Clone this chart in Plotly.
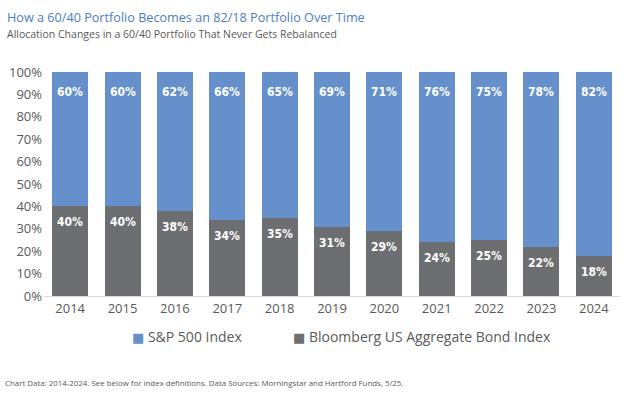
import plotly.graph_objects as go

years = ["2014", "2015", "2016", "2017", "2018", "2019", "2020", "2021", "2022", "2023", "2024"]
bond = [40, 40, 38, 34, 35, 31, 29, 24, 25, 22, 18]
sp500 = [60, 60, 62, 66, 65, 69, 71, 76, 75, 78, 82]
series_names = ["S&P 500 Index", "Bloomberg US Aggregate Bond Index"]
y_ticks = [0, 10, 20, 30, 40, 50, 60, 70, 80, 90, 100]

BLUE = "#6690CB"
GRAY = "#6D6E71"
TXT = "#595959"

fig = go.Figure()
fig.add_trace(go.Bar(x=years, y=[v / 100 for v in bond], name=series_names[1],
                     marker=dict(color=GRAY, line=dict(width=0)), showlegend=False))
fig.add_trace(go.Bar(x=years, y=[v / 100 for v in sp500], name=series_names[0],
                     marker=dict(color=BLUE, line=dict(width=0)), showlegend=False))

lab_font = dict(family="DejaVu Sans Condensed", size=12, color="white", weight="bold")
for i, (b, s) in enumerate(zip(bond, sp500)):
    fig.add_annotation(x=i, y=b / 100, text=f"{b}%", showarrow=False, yanchor="middle",
                       yshift=-16, font=lab_font)
    fig.add_annotation(x=i, y=(b + s) / 100, text=f"{s}%", showarrow=False, yanchor="middle",
                       yshift=-20, font=lab_font)

# legend entries (text with colored square glyph)
leg_font = dict(family="Open Sans", size=14, color=TXT)
for name, col, xp in [(series_names[0], BLUE, 0.1493), (series_names[1], GRAY, 0.4288)]:
    fig.add_annotation(xref="paper", yref="paper", x=xp, y=0, yshift=-40, xanchor="left",
                       yanchor="middle", showarrow=False,
                       text=f"<span style='color:{col};font-family:DejaVu Sans;font-size:13px'>■</span> {name}",
                       font=leg_font)

fig.add_annotation(xref="paper", yref="paper", x=-0.068, y=1.0, yshift=55, xanchor="left",
                   yanchor="middle", showarrow=False,
                   text="How a 60/40 Portfolio Becomes an 82/18 Portfolio Over Time",
                   font=dict(family="Open Sans", size=12.65, color="#4A7EC2"))
fig.add_annotation(xref="paper", yref="paper", x=-0.068, y=1.0, yshift=38, xanchor="left",
                   yanchor="middle", showarrow=False,
                   text="Allocation Changes in a 60/40 Portfolio That Never Gets Rebalanced",
                   font=dict(family="Open Sans", size=10.5, color=TXT))
fig.add_annotation(xref="paper", yref="paper", x=-0.071, y=0, yshift=-87, xanchor="left",
                   yanchor="middle", showarrow=False,
                   text="Chart Data: 2014-2024. See below for index definitions. Data Sources: Morningstar and Hartford Funds, 5/25.",
                   font=dict(family="Open Sans", size=7.9, color=TXT))

fig.update_layout(
    barmode="stack",
    bargap=0.313,
    width=624, height=396,
    margin=dict(l=44, r=4, t=72, b=100),
    paper_bgcolor="white", plot_bgcolor="white",
    font=dict(family="Open Sans", color=TXT),
    showlegend=False,
    xaxis=dict(type="category", range=[-0.5, len(years) - 0.5], showgrid=False, showline=True,
               linecolor="#D9D9D9", linewidth=1,
               tickfont=dict(family="Open Sans", size=13, color=TXT), ticks="",
               fixedrange=True),
    yaxis=dict(range=[0, 1], tickvals=[t / 100 for t in y_ticks],
               ticktext=[f"{t}%" for t in y_ticks], showgrid=False, zeroline=False,
               showline=False, ticks="", ticklabelstandoff=1,
               tickfont=dict(family="Open Sans", size=13, color=TXT), fixedrange=True),
)

fig.write_html("out.html", post_script="document.body.style.margin='0';",
               config={"displayModeBar": False})
